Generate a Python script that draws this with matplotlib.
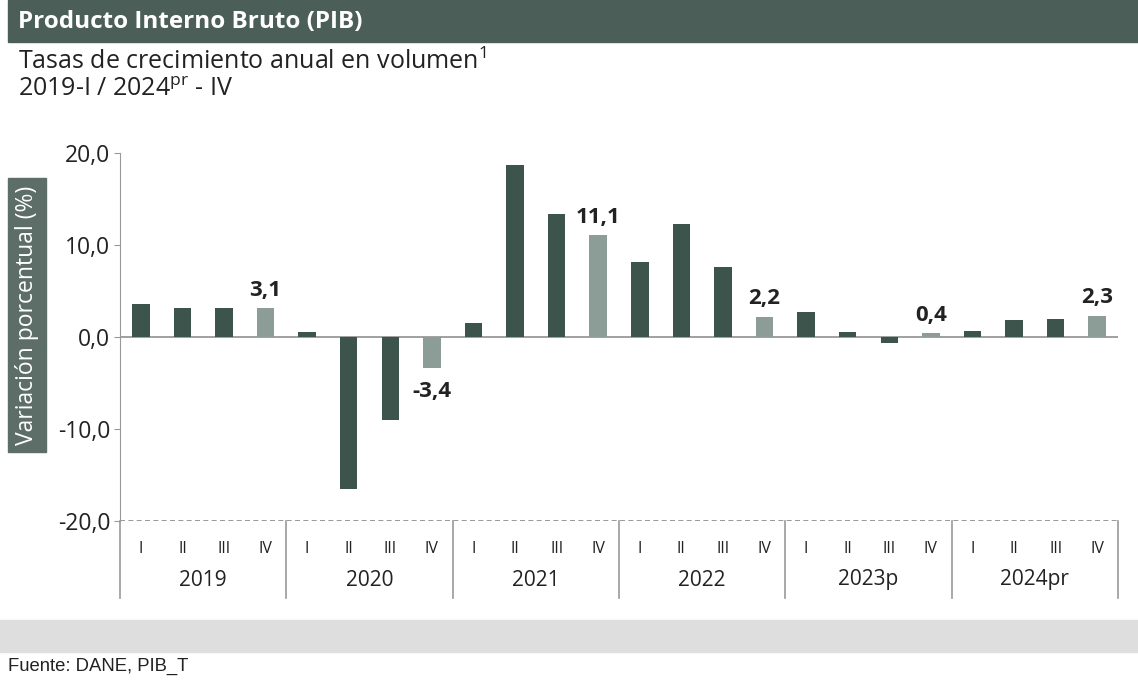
import numpy as np
import matplotlib.pyplot as plt
from matplotlib.patches import Rectangle
from matplotlib.transforms import blended_transform_factory

plt.rcParams['font.family'] = ['Open Sans', 'DejaVu Sans']
plt.rcParams['mathtext.fontset'] = 'custom'
plt.rcParams['mathtext.rm'] = 'Open Sans'

# Datos
anios = ['2019', '2020', '2021', '2022', '2023p', '2024pr']
trimestres = ['I', 'II', 'III', 'IV']
valores = [3.6, 3.1, 3.2, 3.1,
           0.5, -16.5, -9.0, -3.4,
           1.5, 18.7, 13.4, 11.1,
           8.2, 12.3, 7.6, 2.2,
           2.7, 0.5, -0.7, 0.4,
           0.6, 1.9, 2.0, 2.3]

OSCURO = '#3d544d'
CLARO = '#8c9c96'
GRIS = '#999999'

W, H = 1138, 681
fig = plt.figure(figsize=(W / 100, H / 100), dpi=100)
fig.patch.set_facecolor('white')

# encabezado
fig.patches.append(Rectangle((8 / W, 1 - 42 / H), 1 - 8 / W, 42 / H,
                             transform=fig.transFigure, color='#4b5e57', zorder=0))
fig.text(18 / W, 1 - 22 / H, 'Producto Interno Bruto (PIB)', color='white',
         fontsize=17.5, fontweight='bold', va='center', ha='left')
fig.text(18 / W, 1 - 62 / H, r'Tasas de crecimiento anual en volumen$^{\mathrm{1}}$',
         fontsize=18, va='center', ha='left', color='#222222')
fig.text(18 / W, 1 - 90 / H, r'2019-I / 2024$^{\mathrm{pr}}$ - IV',
         fontsize=18, va='center', ha='left', color='#222222')

# banda inferior y fuente
fig.patches.append(Rectangle((0, 1 - 652 / H), 1, 32 / H,
                             transform=fig.transFigure, color='#dedede', zorder=0))
fig.text(8 / W, 1 - 666 / H, 'Fuente: DANE, PIB_T', fontsize=13.3,
         family='Liberation Sans', va='center', ha='left', color='#222222')

ax = fig.add_axes([120 / W, 1 - 521 / H, 998 / W, 368 / H])
x = np.arange(len(valores))
colores = [CLARO if i % 4 == 3 else OSCURO for i in range(len(valores))]
ax.bar(x, valores, width=0.42, color=colores, zorder=3)

ax.set_xlim(-0.5, len(valores) - 0.5)
ax.set_ylim(-20, 20)
ax.set_yticks([-20, -10, 0, 10, 20])
ax.set_yticklabels(['-20,0', '-10,0', '0,0', '10,0', '20,0'], fontsize=16.5, color='#222222')
ax.set_xticks([])
ax.tick_params(axis='y', length=4, color=GRIS, pad=3)
for s in ['top', 'right']:
    ax.spines[s].set_visible(False)
ax.spines['left'].set_color(GRIS)
ax.spines['bottom'].set_visible(False)
ax.axhline(0, color=GRIS, lw=1.3, zorder=2)
ax.axhline(-20, color='#888888', lw=1.2, ls=(0, (3, 2)), zorder=2)

# etiquetas de los IV trimestres
for i in range(3, len(valores), 4):
    v = valores[i]
    txt = f'{v:.1f}'.replace('.', ',')
    if v >= 0:
        ax.text(i, v + 0.8, txt, ha='center', va='bottom', fontsize=16, fontweight='bold', color='#222222')
    else:
        ax.text(i, v - 1.4, txt, ha='center', va='top', fontsize=16, fontweight='bold', color='#222222')

# eje de categorias
tr = blended_transform_factory(ax.transData, ax.transAxes)
for k in range(len(anios) + 1):
    xs = k * 4 - 0.5
    ax.plot([xs, xs], [0, -77 / 368], transform=tr, color=GRIS, lw=1.2, clip_on=False)
for i in x:
    ax.text(i, -28 / 368, trimestres[i % 4], transform=tr, ha='center', va='center',
            fontsize=11.5, color='#222222')
for k, a in enumerate(anios):
    ax.text(k * 4 + 1.5, -59 / 368, a, transform=tr, ha='center', va='center',
            fontsize=15, color='#222222')

# etiqueta del eje y en recuadro
fig.patches.append(Rectangle((8 / W, 1 - 452 / H), 38 / W, 274 / H,
                             transform=fig.transFigure, color='#5d6e68', zorder=1))
fig.text(27 / W, 1 - 315 / H, 'Variación porcentual (%)', rotation=90, color='white',
         fontsize=16.5, ha='center', va='center', zorder=2)

fig.savefig('out.png', dpi=100)
